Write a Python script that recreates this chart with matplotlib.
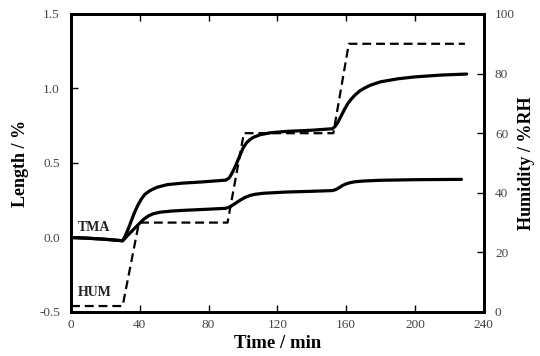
import matplotlib
matplotlib.use("Agg")
import matplotlib.pyplot as plt

# Data
t_upper = [0, 10, 20, 30, 31.5, 33, 35, 37, 39, 41, 43, 46, 50, 56, 65, 75, 90, 92, 94, 96, 98,
           100, 102, 104, 106, 110, 116, 125, 140, 152, 153.5, 155, 157, 159, 161, 163, 165,
           168, 171, 174, 180, 190, 200, 215, 230]
len_upper = [0.0, -0.005, -0.012, -0.022, 0.01, 0.05, 0.11, 0.17, 0.22, 0.26, 0.29, 0.315,
             0.337, 0.355, 0.365, 0.372, 0.385, 0.40, 0.44, 0.49, 0.545, 0.60, 0.635, 0.657,
             0.672, 0.69, 0.703, 0.712, 0.72, 0.73, 0.745, 0.77, 0.815, 0.86, 0.9, 0.93,
             0.955, 0.985, 1.005, 1.022, 1.045, 1.065, 1.078, 1.09, 1.097]

t_lower = [0, 10, 20, 30, 31.5, 33, 36, 39, 42, 45, 48, 52, 58, 65, 80, 90, 92, 95, 98, 101,
           104, 107, 112, 125, 140, 152, 154, 156, 158, 160, 162, 165, 170, 180, 200, 227]
len_lower = [0.0, -0.005, -0.012, -0.022, -0.005, 0.015, 0.05, 0.085, 0.12, 0.145, 0.16,
             0.17, 0.177, 0.182, 0.19, 0.196, 0.203, 0.225, 0.248, 0.268, 0.282, 0.29, 0.297,
             0.305, 0.31, 0.315, 0.322, 0.335, 0.35, 0.36, 0.367, 0.374, 0.379, 0.384, 0.388,
             0.39]

t_hum = [0, 30, 39.5, 91, 100.5, 152.5, 161.5, 229]
hum = [2, 2, 30, 30, 60, 60, 90, 90]

x_ticks = [0, 40, 80, 120, 160, 200, 240]
len_ticks = [-0.5, 0.0, 0.5, 1.0, 1.5]
hum_ticks = [0, 20, 40, 60, 80, 100]

plt.rcParams['font.family'] = ['Liberation Serif', 'DejaVu Serif']

fig = plt.figure(figsize=(5.4, 3.56), dpi=100)
ax = fig.add_axes([0.1315, 0.1236, 0.7645, 0.8371])
ax2 = ax.twinx()

ax.plot(t_upper, len_upper, color='black', lw=2.3, solid_capstyle='round', solid_joinstyle='round')
ax.plot(t_lower, len_lower, color='black', lw=2.3, solid_capstyle='round', solid_joinstyle='round')
ax2.plot(t_hum, hum, color='black', lw=1.6, linestyle=(0, (4, 2.2)))

ax.set_xlim(0, 240)
ax.set_ylim(-0.5, 1.5)
ax2.set_ylim(0, 100)

ax.set_xticks(x_ticks)
ax.set_xticklabels([str(v) for v in x_ticks])
ax.set_yticks(len_ticks)
ax.set_yticklabels([f"{v:.1f}" for v in len_ticks])
ax2.set_yticks(hum_ticks)
ax2.set_yticklabels([str(v) for v in hum_ticks])

for a in (ax, ax2):
    for s in a.spines.values():
        s.set_linewidth(2.0)

ax.tick_params(axis='x', direction='in', top=True, length=5, width=1, labelsize=9.5,
               colors='black', labelcolor='#444444', pad=5)
ax.tick_params(axis='y', direction='in', left=True, right=False, length=5, width=1,
               labelsize=9.5, labelcolor='#444444', pad=8)
ax2.tick_params(axis='y', direction='in', right=True, length=5, width=1, labelsize=9.5,
                labelcolor='#444444', pad=8)

ax.set_xlabel('Time / min', fontsize=13.5, fontweight='bold', labelpad=3)
ax.set_ylabel('Length / %', fontsize=13, fontweight='bold', labelpad=7)
ax2.set_ylabel('Humidity / %RH', fontsize=13, fontweight='bold', labelpad=2)

ax.text(4, 0.066, 'TMA', fontsize=10, fontweight='bold', color='#222222', va='center', ha='left')
ax.text(4, -0.372, 'HUM', fontsize=10, fontweight='bold', color='#222222', va='center', ha='left')

fig.savefig('out.png', dpi=100)
